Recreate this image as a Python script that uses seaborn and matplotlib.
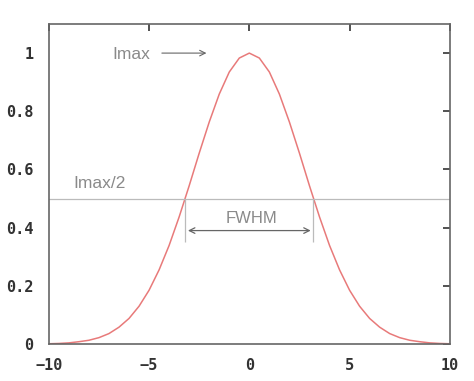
import matplotlib
matplotlib.use("Agg")
import matplotlib.pyplot as plt
import seaborn as sns
import pandas as pd

# values (symmetric around 0)
x_vals = [-10, -9.5, -9, -8.5, -8, -7.5, -7, -6.5, -6, -5.5, -5, -4.5, -4, -3.5, -3,
          -2.5, -2, -1.5, -1, -0.5, 0, 0.5, 1, 1.5, 2, 2.5, 3, 3.5, 4, 4.5, 5,
          5.5, 6, 6.5, 7, 7.5, 8, 8.5, 9, 9.5, 10]
half_side = [0.001, 0.002, 0.004, 0.008, 0.013, 0.022, 0.036, 0.058, 0.088, 0.130,
             0.185, 0.255, 0.339, 0.437, 0.544, 0.656, 0.763, 0.859, 0.935, 0.983]
y_vals = half_side + [1.0] + half_side[::-1]

x_ticks = [-10, -5, 0, 5, 10]
y_ticks = [0, 0.2, 0.4, 0.6, 0.8, 1]
y_tick_labels = ["0", "0.2", "0.4", "0.6", "0.8", "1"]

half_max = 0.5
fwhm_left, fwhm_right = -3.2, 3.2

df = pd.DataFrame({"x": x_vals, "y": y_vals})

sns.set_style("white")
fig = plt.figure(figsize=(4.74, 3.81), dpi=100)
ax = fig.add_axes([0.103, 0.097, 0.846, 0.840])

sns.lineplot(data=df, x="x", y="y", ax=ax, color="#e87a7a", linewidth=1.1)

grey = "#8a8a8a"
# half maximum line and FWHM markers
ax.axhline(half_max, color="#bbbbbb", linewidth=0.9)
ax.vlines([fwhm_left, fwhm_right], 0.35, half_max, color="#bbbbbb", linewidth=0.9)
ax.annotate("", xy=(fwhm_left, 0.39), xytext=(fwhm_right, 0.39),
            arrowprops=dict(arrowstyle="<->", color="#666666", lw=0.9))
ax.text(-1.2, 0.415, "FWHM", color=grey, fontsize=12, family="Liberation Sans")
ax.text(-8.8, 0.535, "Imax/2", color=grey, fontsize=12.5, family="Liberation Sans")
ax.text(-6.85, 0.98, "Imax", color=grey, fontsize=12.5, family="Liberation Sans")
ax.annotate("", xy=(-2.0, 1.0), xytext=(-4.5, 1.0),
            arrowprops=dict(arrowstyle="->", color="#666666", lw=0.8))

ax.set_xlim(-10, 10)
ax.set_ylim(0, 1.1)
ax.set_xticks(x_ticks)
ax.set_yticks(y_ticks)
ax.set_yticklabels(y_tick_labels)
ax.set_xlabel("")
ax.set_ylabel("")
ax.tick_params(direction="in", length=5, width=1.2, color="#333333",
               top=True, right=True, labelsize=11)
ax.tick_params(axis="x", pad=10)
ax.tick_params(axis="y", pad=11)
for lab in ax.get_xticklabels() + ax.get_yticklabels():
    lab.set_family("DejaVu Sans Mono")
    lab.set_fontweight("bold")
    lab.set_color("#333333")
for s in ax.spines.values():
    s.set_visible(True)
    s.set_color("#666666")
    s.set_linewidth(1.2)

fig.savefig("out.png", dpi=100)
